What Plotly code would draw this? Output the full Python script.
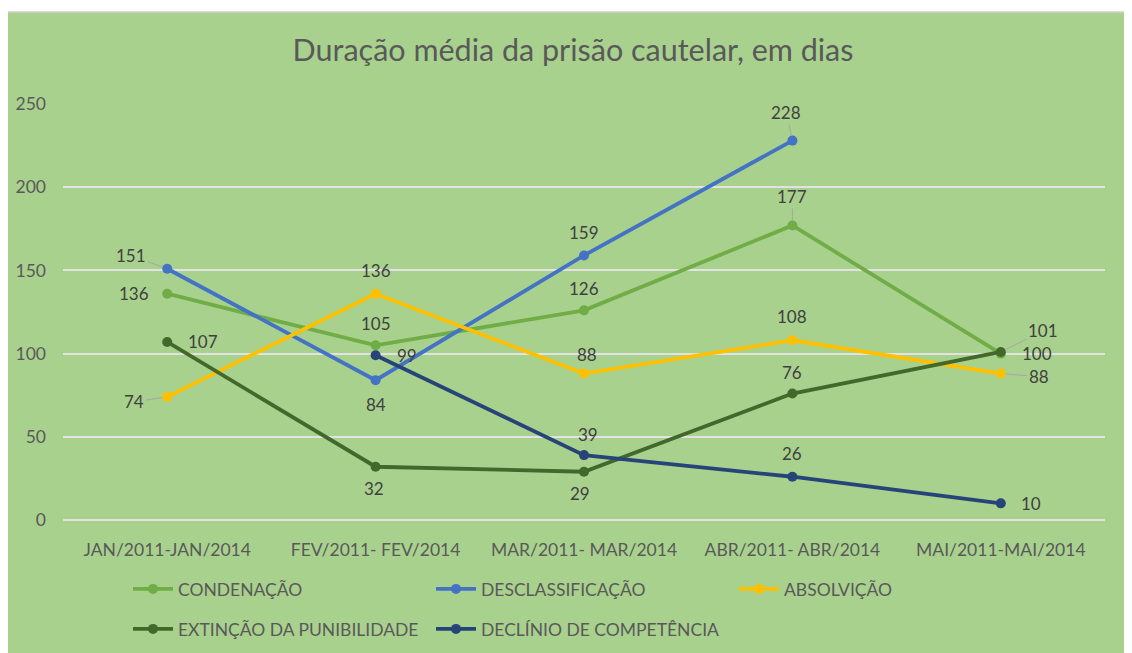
import plotly.graph_objects as go

categories = ["JAN/2011-JAN/2014", "FEV/2011- FEV/2014", "MAR/2011- MAR/2014",
              "ABR/2011- ABR/2014", "MAI/2011-MAI/2014"]
condenacao = [136, 105, 126, 177, 100]
desclassificacao = [151, 84, 159, 228, None]
absolvicao = [74, 136, 88, 108, 88]
extincao = [107, 32, 29, 76, 101]
declinio = [None, 99, 39, 26, 10]

series = [
    ("CONDENAÇÃO", condenacao, "#70ad47", "legend"),
    ("DESCLASSIFICAÇÃO", desclassificacao, "#4472c4", "legend"),
    ("ABSOLVIÇÃO", absolvicao, "#ffc000", "legend"),
    ("EXTINÇÃO DA PUNIBILIDADE", extincao, "#43682b", "legend2"),
    ("DECLÍNIO DE COMPETÊNCIA", declinio, "#264478", "legend2"),
]

# label offsets in pixels (dx, dy) and whether a leader line is drawn
label_pos = {
    "CONDENAÇÃO": [(-33, 0, False), (0, -22, False), (0, -22, False), (0, -29, True), (36, 0, False)],
    "DESCLASSIFICAÇÃO": [(-36, -13, True), (0, 24, False), (0, -23, False), (-6, -28, True), None],
    "ABSOLVIÇÃO": [(-33, 5, True), (0, -23, False), (3, -19, False), (0, -24, False), (38, 3, True)],
    "EXTINÇÃO DA PUNIBILIDADE": [(36, 0, False), (-2, 22, False), (-4, 22, False), (0, -21, False), (42, -21, True)],
    "DECLÍNIO DE COMPETÊNCIA": [None, (31, 0, False), (4, -21, False), (0, -23, False), (30, 0, False)],
}

FONT = "Lato"
TXT = "#595959"
# page body has an 8px default margin: figure coordinates = screen - 8
L, T, PW, PH = 55, 96, 1042, 416

fig = go.Figure()
annotations = []
for name, vals, color, lg in series:
    fig.add_trace(go.Scatter(
        x=categories, y=vals, name=name, mode="lines+markers",
        line=dict(color=color, width=3.8),
        marker=dict(color=color, size=10),
        connectgaps=False, legend=lg,
    ))
    for i, v in enumerate(vals):
        pos = label_pos[name][i]
        if v is None or pos is None:
            continue
        dx, dy, leader = pos
        annotations.append(dict(
            x=categories[i], y=v, xref="x", yref="y", text=str(v),
            showarrow=True, ax=dx, ay=dy, arrowhead=0, arrowwidth=1,
            arrowcolor="#a6a6a6" if leader else "rgba(0,0,0,0)",
            standoff=5,
            font=dict(family=FONT, size=17, color="#404040"),
        ))

legend_common = dict(orientation="h", xanchor="left", yanchor="middle",
                     entrywidth=248, entrywidthmode="pixels",
                     font=dict(family=FONT, size=17.5, color=TXT),
                     bgcolor="rgba(0,0,0,0)", itemwidth=40)

fig.update_layout(
    width=1132, height=653,
    margin=dict(l=L, r=1132 - L - PW, t=T, b=653 - T - PH, autoexpand=False),
    paper_bgcolor="white",
    plot_bgcolor="rgba(0,0,0,0)",
    title=dict(text="Duração média da prisão cautelar, em dias",
               x=(573 - 8) / 1132, xanchor="center", y=1 - (50 - 8) / 653, yanchor="middle",
               font=dict(family=FONT, size=30.5, color=TXT)),
    font=dict(family=FONT, size=17, color=TXT),
    showlegend=True,
    legend=dict(x=(120 - L) / PW, y=(T + PH - (589 - 8)) / PH, **legend_common),
    legend2=dict(x=(120 - L) / PW, y=(T + PH - (629 - 8)) / PH, **legend_common),
    annotations=annotations,
    shapes=[dict(type="rect", xref="paper", yref="paper",
                 x0=(-4 - L) / PW, x1=1.05, y0=-0.4, y1=(T + PH - 4) / PH,
                 fillcolor="#a9d18e", line=dict(color="#d0d0d0", width=1.5),
                 layer="below")],
)
fig.update_xaxes(type="category", range=[-0.5, 4.5], showgrid=False, zeroline=False,
                 showline=False, ticks="", ticklabelstandoff=17,
                 tickfont=dict(family=FONT, size=17.5, color=TXT))
fig.update_yaxes(range=[0, 250], dtick=50, showgrid=True, gridcolor="#e2e2e2", gridwidth=1.5,
                 zeroline=True, zerolinecolor="#e2e2e2", zerolinewidth=1.5,
                 ticks="", ticklabelstandoff=16,
                 tickfont=dict(family=FONT, size=17.5, color=TXT))

fig.write_html("out.html")
